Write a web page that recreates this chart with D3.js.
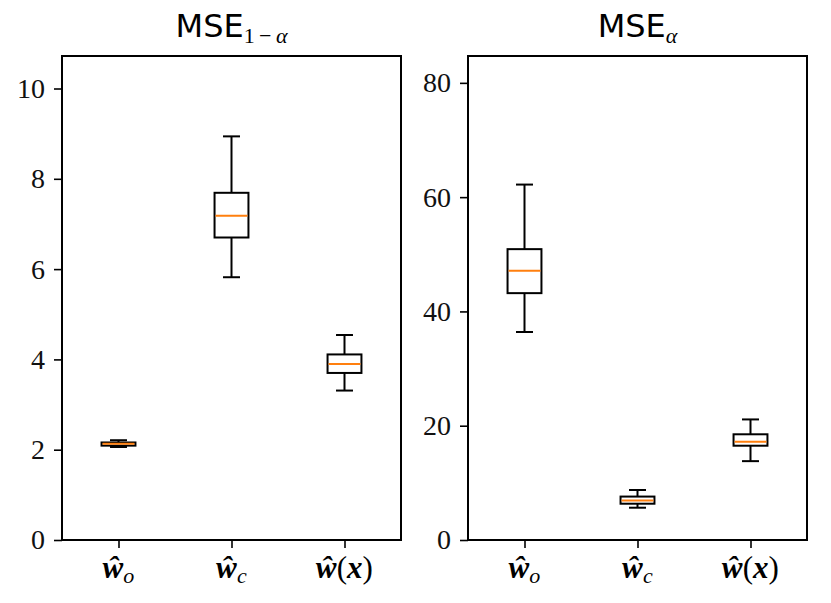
<!DOCTYPE html>
<html lang="en">
<head>
<meta charset="utf-8">
<title>MSE box plots</title>
<script src="https://cdn.jsdelivr.net/npm/d3@7"></script>
<style>
  body { margin: 0; background: #fff; }
  .tick text { font-family: "Liberation Serif", "DejaVu Serif", serif; }
</style>
</head>
<body>
<script>
// categories (x tick labels)
var categories = ["wo", "wc", "wx"];

// MSE_{1-alpha}: [whisker low, q1, median, q3, whisker high]
var mseOneMinusAlpha = [
  [2.06, 2.09, 2.13, 2.16, 2.21],
  [5.82, 6.70, 7.18, 7.69, 8.94],
  [3.31, 3.70, 3.90, 4.11, 4.54]
];
// MSE_{alpha}
var mseAlpha = [
  [36.4, 43.2, 47.1, 50.9, 62.2],
  [5.65, 6.35, 6.9, 7.6, 8.75],
  [13.8, 16.5, 17.2, 18.5, 21.1]
];

var leftTicks = [0, 2, 4, 6, 8, 10];
var rightTicks = [0, 20, 40, 60, 80];

var w = 831, h = 603;
var svg = d3.select("body").append("svg")
  .attr("width", w)
  .attr("height", h);

var plotTop = 56, plotBottom = 540;

function drawPanel(x0, x1, ymax, ticks, data, withOneMinus) {
  var g = svg.append("g");

  var x = d3.scaleLinear().domain([0.5, 3.5]).range([x0, x1]);
  var y = d3.scaleLinear().domain([0, ymax]).range([plotBottom, plotTop]);

  var boxW = x(1.15) - x(0.85);
  var capW = boxW / 2;

  var boxes = g.selectAll(".box")
    .data(data)
    .enter().append("g")
    .attr("class", "box");

  // whiskers
  boxes.append("line")
    .attr("x1", function(d, i) { return x(i + 1); })
    .attr("x2", function(d, i) { return x(i + 1); })
    .attr("y1", function(d) { return y(d[0]); })
    .attr("y2", function(d) { return y(d[1]); })
    .attr("stroke", "#000").attr("stroke-width", 2);
  boxes.append("line")
    .attr("x1", function(d, i) { return x(i + 1); })
    .attr("x2", function(d, i) { return x(i + 1); })
    .attr("y1", function(d) { return y(d[3]); })
    .attr("y2", function(d) { return y(d[4]); })
    .attr("stroke", "#000").attr("stroke-width", 2);
  // caps
  [0, 4].forEach(function(k) {
    boxes.append("line")
      .attr("x1", function(d, i) { return x(i + 1) - capW / 2; })
      .attr("x2", function(d, i) { return x(i + 1) + capW / 2; })
      .attr("y1", function(d) { return y(d[k]); })
      .attr("y2", function(d) { return y(d[k]); })
      .attr("stroke", "#000").attr("stroke-width", 2);
  });
  // box
  boxes.append("rect")
    .attr("x", function(d, i) { return x(i + 1) - boxW / 2; })
    .attr("width", boxW)
    .attr("y", function(d) { return y(d[3]); })
    .attr("height", function(d) { return y(d[1]) - y(d[3]); })
    .attr("fill", "none")
    .attr("stroke", "#000").attr("stroke-width", 2);
  // median
  boxes.append("line")
    .attr("x1", function(d, i) { return x(i + 1) - boxW / 2 + 1; })
    .attr("x2", function(d, i) { return x(i + 1) + boxW / 2 - 1; })
    .attr("y1", function(d) { return y(d[2]); })
    .attr("y2", function(d) { return y(d[2]); })
    .attr("stroke", "#ff7f0e").attr("stroke-width", 2);

  // y axis
  var ya = g.append("g")
    .attr("transform", "translate(" + x0 + ",0)")
    .call(d3.axisLeft(y).tickValues(ticks).tickSize(8).tickPadding(9).tickFormat(d3.format("d")));
  ya.select(".domain").remove();
  ya.selectAll(".tick line").attr("stroke-width", 1.6);
  ya.selectAll(".tick text").attr("font-size", 28).attr("fill", "#111");

  // x axis
  var xa = g.append("g")
    .attr("transform", "translate(0," + plotBottom + ")")
    .call(d3.axisBottom(x).tickValues([1, 2, 3]).tickSize(8).tickFormat(""));
  xa.select(".domain").remove();
  xa.selectAll(".tick line").attr("stroke-width", 1.6);

  // x labels
  var lab = g.selectAll(".xlab")
    .data(categories)
    .enter().append("text")
    .attr("class", "xlab")
    .attr("x", function(d, i) { return x(i + 1); })
    .attr("y", 578)
    .attr("text-anchor", "middle")
    .attr("font-family", "'Liberation Serif', 'DejaVu Serif', serif")
    .attr("font-size", 31);
  lab.each(function(d) {
    var t = d3.select(this);
    t.append("tspan").attr("font-weight", "bold").attr("font-style", "italic").text("\u0175");
    if (d === "wx") {
      t.append("tspan").text("(");
      t.append("tspan").attr("font-weight", "bold").attr("font-style", "italic").text("x");
      t.append("tspan").text(")");
    } else {
      t.append("tspan").attr("font-style", "italic").attr("font-size", 22).attr("dy", 5)
        .text(d === "wo" ? "o" : "c");
    }
  });

  // frame
  g.append("rect")
    .attr("x", x0).attr("y", plotTop)
    .attr("width", x1 - x0).attr("height", plotBottom - plotTop)
    .attr("fill", "none").attr("stroke", "#000").attr("stroke-width", 2);

  // title
  var title = g.append("text")
    .attr("x", (x0 + x1) / 2)
    .attr("y", 37)
    .attr("text-anchor", "middle")
    .attr("font-family", "'DejaVu Sans', sans-serif")
    .attr("font-size", 32)
    .attr("fill", "#000");
  title.append("tspan").text("MSE");
  var sub = title.append("tspan")
    .attr("dy", 6)
    .attr("font-family", "'Liberation Serif', 'DejaVu Serif', serif")
    .attr("font-size", 22);
  if (withOneMinus) {
    sub.append("tspan").text("1\u2009\u2212\u2009");
  }
  sub.append("tspan").attr("font-style", "italic").text("\u03b1");
}

drawPanel(62, 401, 10.72, leftTicks, mseOneMinusAlpha, true);
drawPanel(468, 807, 84.7, rightTicks, mseAlpha, false);
</script>
</body>
</html>
